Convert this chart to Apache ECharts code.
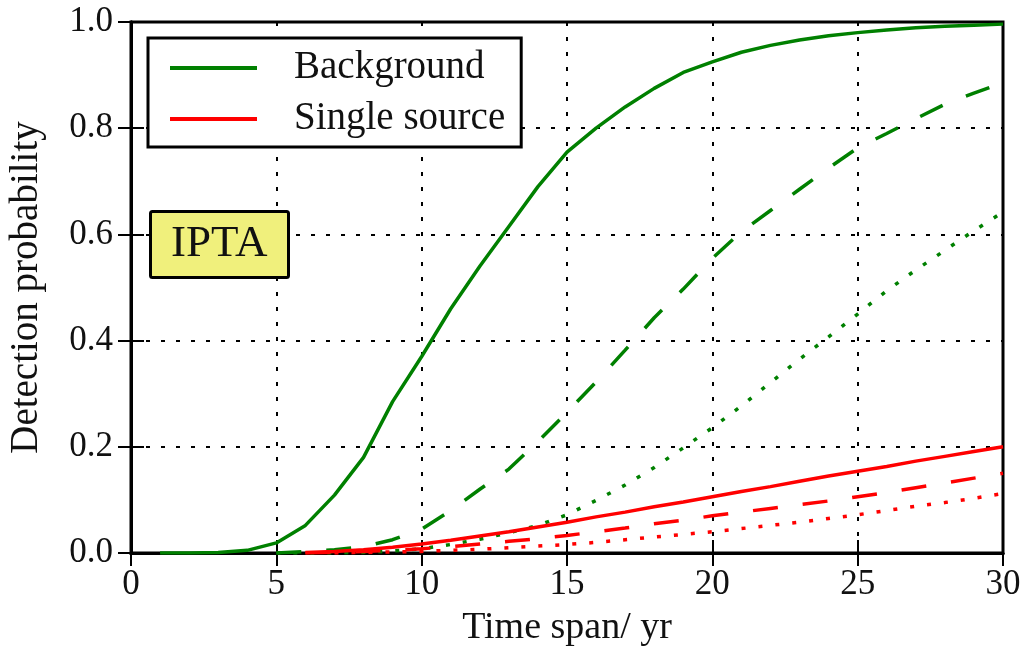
<!DOCTYPE html>
<html>
<head>
<meta charset="utf-8">
<script src="https://cdn.jsdelivr.net/npm/echarts@6/dist/echarts.min.js"></script>
<style>
html,body{margin:0;padding:0;background:#fff;}
#chart{width:1034px;height:649px;}
</style>
</head>
<body>
<div id="chart"></div>
<script>
// Time span (yr)
var years = [1,2,3,4,5,6,7,8,9,10,11,12,13,14,15,16,17,18,19,20,21,22,23,24,25,26,27,28,29,30];

// Background (green)
var bgSolid  = [0.0,0.0,0.001,0.005,0.019,0.052,0.109,0.18,0.285,0.37,0.46,0.54,0.615,0.69,0.755,0.80,0.84,0.875,0.905,0.925,0.943,0.956,0.966,0.974,0.980,0.985,0.989,0.992,0.994,0.996];
var bgDashed = [null,null,null,null,0.0,0.003,0.006,0.012,0.025,0.045,0.08,0.12,0.158,0.21,0.265,0.322,0.382,0.443,0.497,0.555,0.605,0.645,0.685,0.725,0.763,0.79,0.818,0.845,0.866,0.886];
var bgDotted = [null,null,null,null,0.0,0.0,0.0,0.001,0.004,0.008,0.016,0.026,0.038,0.052,0.072,0.099,0.128,0.161,0.198,0.236,0.277,0.321,0.365,0.407,0.45,0.494,0.533,0.57,0.607,0.642];

// Single source (red)
var ssSolid  = [null,null,null,null,null,0.001,0.003,0.006,0.011,0.017,0.024,0.032,0.040,0.049,0.058,0.068,0.077,0.087,0.096,0.106,0.116,0.125,0.135,0.145,0.154,0.163,0.173,0.182,0.191,0.200];
var ssDashed = [null,null,null,null,null,0.0,0.001,0.003,0.005,0.008,0.012,0.017,0.022,0.027,0.033,0.040,0.047,0.055,0.062,0.070,0.077,0.084,0.091,0.098,0.106,0.114,0.123,0.132,0.141,0.150];
var ssDotted = [null,null,null,null,null,null,0.0,0.001,0.002,0.003,0.005,0.007,0.010,0.013,0.016,0.020,0.025,0.030,0.035,0.040,0.046,0.052,0.058,0.065,0.072,0.080,0.088,0.095,0.103,0.112];

var xTicks = [0,5,10,15,20,25,30];
var yTicks = [0.0,0.2,0.4,0.6,0.8,1.0];

var FONT = '"Liberation Serif", "DejaVu Serif", serif';
var GREEN = '#008000', RED = '#ff0000';

function pairs(vals){
  var out = [];
  for (var i = 0; i < years.length; i++) {
    if (vals[i] !== null) out.push([years[i], vals[i]]);
  }
  return out;
}

function lineSeries(name, vals, color, type){
  return {
    name: name, type: 'line', data: pairs(vals),
    symbol: 'none', smooth: false, clip: true,
    lineStyle: {color: color, width: 3.5, type: type, cap: 'butt'},
    itemStyle: {color: color},
    z: 5
  };
}

var gridLine = {show: true, lineStyle: {color: '#000', width: 2, type: [4, 11]}};

var chart = echarts.init(document.getElementById('chart'), null, {renderer: 'canvas'});
chart.setOption({
  animation: false,
  backgroundColor: '#fff',
  grid: {left: 131, right: 31, top: 22, bottom: 96, show: true, borderColor: '#000', borderWidth: 3,
         backgroundColor: 'transparent', containLabel: false, outerBoundsMode: 'none'},
  title: {
    text: 'IPTA', left: 150, top: 211,
    backgroundColor: '#f0f07c', borderColor: '#000', borderWidth: 3, borderRadius: 2,
    padding: [11, 21, 11, 21],
    textStyle: {fontFamily: FONT, fontSize: 45, fontWeight: 'normal', color: '#111', lineHeight: 45},
    z: 10
  },
  legend: {
    data: ['Background', 'Single source'],
    orient: 'vertical', left: 148, top: 38,
    backgroundColor: '#fff', borderColor: '#000', borderWidth: 3, borderRadius: 0,
    padding: [10, 16, 8, 22],
    itemGap: 11, itemWidth: 87, itemHeight: 4, icon: 'rect',
    textStyle: {fontFamily: FONT, fontSize: 39, color: '#111', lineHeight: 40, padding: [0, 0, 0, 32]},
    selectedMode: false,
    z: 10
  },
  xAxis: [{
    type: 'value', min: 0, max: 30, interval: 5, position: 'bottom',
    name: 'Time span/ yr', nameLocation: 'middle', nameGap: 56,
    nameTextStyle: {fontFamily: FONT, fontSize: 38, color: '#111'},
    axisLine: {show: true, lineStyle: {color: '#000', width: 3}},
    axisTick: {show: true, inside: true, length: 13, lineStyle: {color: '#000', width: 2}},
    axisLabel: {fontFamily: FONT, fontSize: 35, color: '#111', margin: 14,
      formatter: function(v){ return xTicks.indexOf(v) >= 0 ? String(v) : ''; }},
    splitLine: gridLine
  }, {
    type: 'value', min: 0, max: 30, interval: 5, position: 'top',
    axisLine: {show: true, lineStyle: {color: '#000', width: 3}},
    axisTick: {show: true, inside: true, length: 13, lineStyle: {color: '#000', width: 2}},
    axisLabel: {show: false}, splitLine: {show: false}
  }],
  yAxis: [{
    type: 'value', min: 0, max: 1, interval: 0.2, position: 'left',
    name: 'Detection probability', nameLocation: 'middle', nameGap: 85, nameRotate: 90,
    nameTextStyle: {fontFamily: FONT, fontSize: 39, color: '#111'},
    axisLine: {show: true, lineStyle: {color: '#000', width: 3}},
    axisTick: {show: true, inside: true, length: 13, lineStyle: {color: '#000', width: 2}},
    axisLabel: {fontFamily: FONT, fontSize: 35, color: '#111', margin: 18,
      formatter: function(v){ return v.toFixed(1); }},
    splitLine: gridLine
  }, {
    type: 'value', min: 0, max: 1, interval: 0.2, position: 'right',
    axisLine: {show: true, lineStyle: {color: '#000', width: 3}},
    axisTick: {show: true, inside: true, length: 13, lineStyle: {color: '#000', width: 2}},
    axisLabel: {show: false}, splitLine: {show: false}
  }],
  series: [
    lineSeries('Background', bgSolid, GREEN, 'solid'),
    lineSeries('Background dashed', bgDashed, GREEN, [25, 25]),
    lineSeries('Background dotted', bgDotted, GREEN, [4, 13]),
    lineSeries('Single source', ssSolid, RED, 'solid'),
    lineSeries('Single source dashed', ssDashed, RED, [25, 25]),
    lineSeries('Single source dotted', ssDotted, RED, [4, 13])
  ]
});
</script>
</body>
</html>
